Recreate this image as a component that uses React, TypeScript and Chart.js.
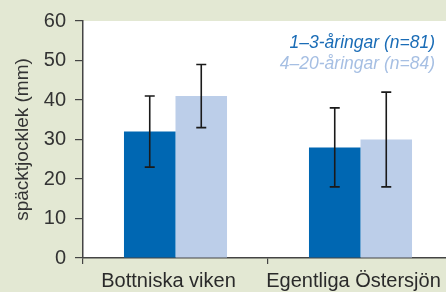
import React, { useEffect, useRef } from 'react';
import { Chart, registerables } from 'chart.js';

Chart.register(...registerables);

const categories = ['Bottniska viken', 'Egentliga Östersjön'];
const seriesLabels = ['1–3-åringar (n=81)', '4–20-åringar (n=84)'];
const youngValues = [32, 28];
const youngLow = [23, 18];
const youngHigh = [41, 38];
const oldValues = [41, 30];
const oldLow = [33, 18];
const oldHigh = [49, 42];
const yMin = 0;
const yMax = 60;
const yStep = 10;
const yTitle = 'späcktjocklek (mm)';

const barColors = ['#0067b2', '#bccee9'];
const legendColors = ['#1a6cb6', '#a6bfe3'];
const FONT = '"Liberation Sans", Arial, Helvetica, sans-serif';

const plotBackground = {
  id: 'plotBackground',
  beforeDraw(chart: any) {
    const { ctx, chartArea } = chart;
    ctx.save();
    ctx.fillStyle = '#ffffff';
    ctx.fillRect(chartArea.left, chartArea.top, chartArea.right - chartArea.left, chartArea.bottom - chartArea.top);
    ctx.restore();
  },
};

const errorBars = {
  id: 'errorBars',
  afterDatasetsDraw(chart: any) {
    const { ctx } = chart;
    const yScale = chart.scales.y;
    ctx.save();
    ctx.strokeStyle = '#1a1a1a';
    ctx.lineWidth = 1.6;
    chart.data.datasets.forEach((ds: any, i: number) => {
      const meta = chart.getDatasetMeta(i);
      meta.data.forEach((el: any, j: number) => {
        const x = el.x;
        const yh = yScale.getPixelForValue(ds.errHigh[j]);
        const yl = yScale.getPixelForValue(ds.errLow[j]);
        const cap = 5;
        ctx.beginPath();
        ctx.moveTo(x, yh);
        ctx.lineTo(x, yl);
        ctx.moveTo(x - cap, yh);
        ctx.lineTo(x + cap, yh);
        ctx.moveTo(x - cap, yl);
        ctx.lineTo(x + cap, yl);
        ctx.stroke();
      });
    });
    ctx.restore();
  },
};

const textLegend = {
  id: 'textLegend',
  afterDraw(chart: any) {
    const { ctx, chartArea } = chart;
    ctx.save();
    ctx.font = `italic 17.5px ${FONT}`;
    ctx.textAlign = 'right';
    ctx.textBaseline = 'alphabetic';
    chart.data.datasets.forEach((ds: any, i: number) => {
      ctx.fillStyle = legendColors[i];
      ctx.fillText(ds.label, 435, chartArea.top + 27 + i * 20.5);
    });
    ctx.restore();
  },
};

export default function App() {
  const canvasRef = useRef<HTMLCanvasElement | null>(null);

  useEffect(() => {
    if (!canvasRef.current) return;
    const chart = new Chart(canvasRef.current, {
      type: 'bar',
      data: {
        labels: categories,
        datasets: [
          {
            label: seriesLabels[0],
            data: youngValues,
            backgroundColor: barColors[0],
            errLow: youngLow,
            errHigh: youngHigh,
          } as any,
          {
            label: seriesLabels[1],
            data: oldValues,
            backgroundColor: barColors[1],
            errLow: oldLow,
            errHigh: oldHigh,
          } as any,
        ],
      },
      options: {
        animation: false,
        responsive: false,
        devicePixelRatio: 1,
        layout: { padding: { top: 17, right: 17, left: 0, bottom: 0 } },
        datasets: { bar: { categoryPercentage: 0.557, barPercentage: 1 } },
        plugins: {
          legend: { display: false },
          tooltip: { enabled: false },
        },
        scales: {
          x: {
            grid: { offset: true, drawOnChartArea: false, drawTicks: true, tickLength: 6, color: '#444', lineWidth: 1.2 },
            border: { color: '#444', width: 1.5 },
            ticks: { color: '#2a2a2a', font: { family: FONT, size: 20 }, padding: 5, labelOffset: -7 },
            afterFit: (scale: any) => { scale.height = 34; },
          },
          y: {
            min: yMin,
            max: yMax,
            grid: { drawOnChartArea: false, drawTicks: true, tickLength: 8, color: '#444', lineWidth: 1.2 },
            border: { color: '#444', width: 1.5 },
            ticks: { stepSize: yStep, color: '#333', font: { family: FONT, size: 20 }, padding: 9 },
            title: { display: true, text: yTitle, color: '#333', font: { family: FONT, size: 19 }, padding: { top: 11, bottom: 0 } },
            afterFit: (scale: any) => { scale.width = 83; },
          },
        },
      },
      plugins: [plotBackground, errorBars, textLegend],
    });
    return () => chart.destroy();
  }, []);

  return (
    <div style={{ position: 'absolute', left: 0, top: 0, width: 446, height: 292, overflow: 'hidden', background: '#e3e8d3' }}>
      <canvas ref={canvasRef} width={470} height={292} style={{ width: 470, height: 292, display: 'block' }} />
    </div>
  );
}
